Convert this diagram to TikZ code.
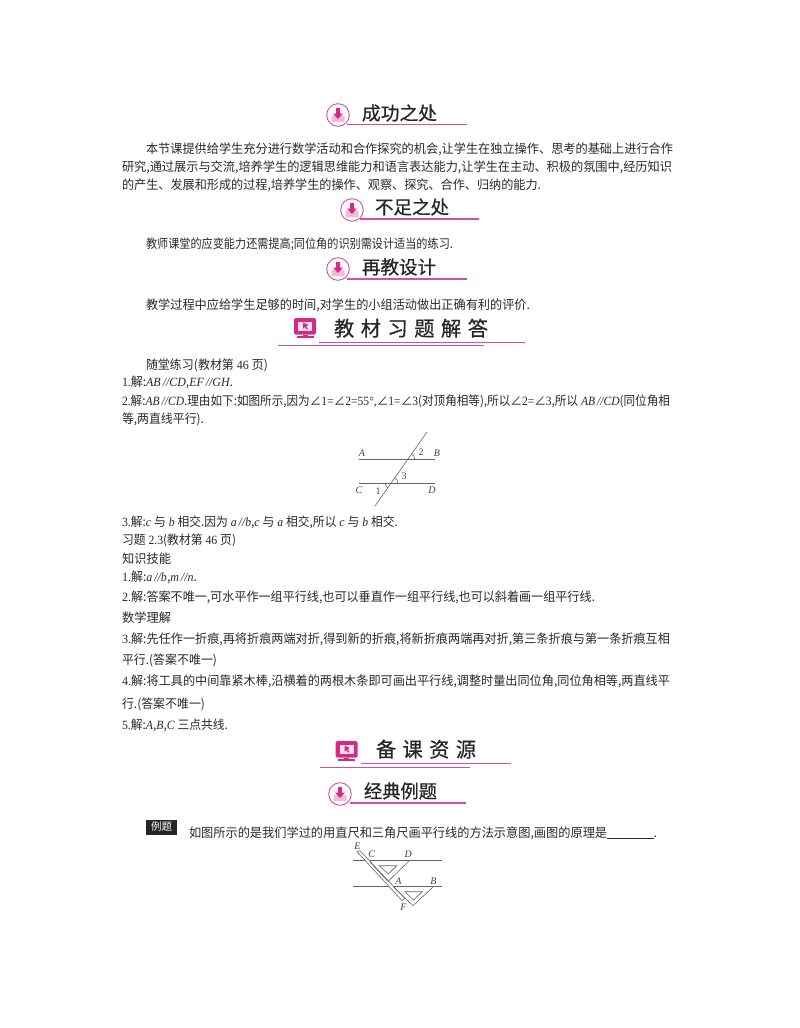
\documentclass[tikz,border=0pt]{standalone}
\usepackage{fontspec}
\usepackage{graphicx}
\setmainfont{Noto Sans CJK SC}
\newfontfamily\enf{Liberation Serif}
\newfontfamily\headf[FakeBold=0.6]{Noto Sans CJK SC}
\newcommand{\en}[1]{{\enf #1}}
\newcommand{\enit}[1]{{\enf\itshape #1}}
\definecolor{ink}{HTML}{2A2A2A}
\definecolor{rosa}{HTML}{D42A85}
\definecolor{rosaline}{HTML}{D4509A}
\definecolor{rosapale}{HTML}{F6BAD6}
\definecolor{figline}{HTML}{666666}
\tikzset{
  bodytext/.style={inner sep=0pt,outer sep=0pt,anchor=base west,text=ink,font=\fontsize{12.6}{14}\selectfont},
  headtext/.style={inner sep=0pt,outer sep=0pt,anchor=base west,text=black!85,font=\headf\fontsize{18.5}{20}\selectfont},
  bighead/.style={headtext,font=\headf\fontsize{20.5}{22}\selectfont},
  figlabel/.style={inner sep=0pt,text=black!75,font=\enf\itshape\fontsize{10}{11}\selectfont},
  fignum/.style={inner sep=0pt,text=black!75,font=\enf\fontsize{10}{11}\selectfont},
  headrule/.style={draw=rosaline,line width=1.2pt},
  figrule/.style={draw=figline,line width=0.9pt},
  figthin/.style={draw=figline,line width=0.6pt},
}
% #1 name, #2 x0, #3 x1, #4 baseline y, #5 text
\newcommand{\tl}[5]{\pgfmathsetlengthmacro{\tlwd}{(#3-#2)*1pt}\node[bodytext] (#1) at (#2,#4) {\resizebox{\tlwd}{\height}{#5}};}
\newcommand{\hl}[5]{\pgfmathsetlengthmacro{\tlwd}{(#3-#2)*1pt}\node[headtext] (#1) at (#2,#4) {\resizebox{\tlwd}{\height}{#5}};}
\newcommand{\dlicon}[2]{\begin{scope}[shift={(#1,#2)}]
  \draw[rosaline,line width=0.9pt,fill=white] (0,0) circle[radius=11.3];
  \fill[rosapale] (-6.5,0.5) -- (-3,0.5) -- (0,3) -- (3,0.5) -- (6.5,0.5) -- (6.5,6.8) -- (-6.5,6.8) -- cycle;
  \fill[rosa] (-2,-7) -- (2,-7) -- (2,-1.5) -- (5,-1.5) -- (0,4) -- (-5,-1.5) -- (-2,-1.5) -- cycle;
\end{scope}}
\newcommand{\pcicon}[2]{\begin{scope}[shift={(#1,#2)}]
  \fill[rosa,rounded corners=1.5pt] (-11,-10) rectangle (11,6.5);
  \fill[white!85!rosa] (-7,-6.5) rectangle (7,2.5);
  \fill[rosa] (-2,-5.5) -- (3.5,-2.8) -- (1.2,-1.8) -- (2.8,1) -- (1.6,1.6) -- (0,-1) -- (-1.8,0.6) -- cycle;
  \fill[rosa] (-2.5,6.5) rectangle (2.5,8);
  \fill[rosa] (-8.5,8) rectangle (8.5,10);
\end{scope}}
\begin{document}
\begin{tikzpicture}[x=1pt,y=-1pt]
\useasboundingbox (0,0) rectangle (800,1028);
\fill[white] (0,0) rectangle (800,1028);

% section headings
\draw[headrule] (347,124.8) -- (467,124.8);
\dlicon{338}{115}
\hl{h1}{362}{437}{120}{成功之处}
\draw[headrule] (360,219) -- (479,219);
\dlicon{352}{210}
\hl{h2}{375}{449}{214}{不足之处}
\draw[headrule] (347,279) -- (467,279);
\dlicon{338}{269}
\hl{h3}{362}{436}{274}{再教设计}

\draw[rosaline,line width=0.8pt] (319,342) -- (525,342);
\draw[rosaline,line width=0.8pt] (278,345.5) -- (484,345.5);
\pcicon{305}{328}
\node[bighead] (h4) at (334,336) {\resizebox{154pt}{\height}{教\hspace{0.32em}材\hspace{0.32em}习\hspace{0.32em}题\hspace{0.32em}解\hspace{0.32em}答}};

\draw[rosaline,line width=0.8pt] (361,763.5) -- (511,763.5);
\draw[rosaline,line width=0.8pt] (320,767) -- (470,767);
\pcicon{346.5}{751}
\node[bighead] (h5) at (376,757) {\resizebox{100pt}{\height}{备\hspace{0.32em}课\hspace{0.32em}资\hspace{0.32em}源}};
\draw[headrule] (350,803) -- (466,803);
\dlicon{340}{794}
\hl{h6}{364}{437}{798}{经典例题}

% body text
\tl{t1}{146}{673}{153.5}{本节课提供给学生充分进行数学活动和合作探究的机会,让学生在独立操作、思考的基础上进行合作}
\tl{t2}{122}{672}{171.5}{研究,通过展示与交流,培养学生的逻辑思维能力和语言表达能力,让学生在主动、积极的氛围中,经历知识}
\tl{t3}{122}{541}{189}{的产生、发展和形成的过程,培养学生的操作、观察、探究、合作、归纳的能力.}
\tl{t4}{146}{453}{248}{教师课堂的应变能力还需提高;同位角的识别需设计适当的练习.}
\tl{t5}{146}{530}{309}{教学过程中应给学生足够的时间,对学生的小组活动做出正确有利的评价.}
\tl{t6}{146}{268}{369}{随堂练习(教材第\en{ 46 }页)}
\tl{t7}{122}{233}{386}{\en{1.}解:\enit{AB}\,\enit{//}\enit{CD},\enit{EF}\,\enit{//}\enit{GH}.}
\tl{t8}{122}{670}{405}{\en{2.}解:\enit{AB}\,\enit{//}\enit{CD}.理由如下:如图所示,因为∠\en{1=}∠\en{2=55°,}∠\en{1=}∠\en{3}(对顶角相等),所以∠\en{2=}∠\en{3},所以\en{ }\enit{AB}\,\enit{//}\enit{CD}(同位角相}
\tl{t9}{122}{204}{423}{等,两直线平行).}
\tl{t10}{122}{398}{526}{\en{3.}解:\enit{c}\en{ }与\en{ }\enit{b}\en{ }相交.因为\en{ }\enit{a}\,\enit{//}\enit{b},\enit{c}\en{ }与\en{ }\enit{a}\en{ }相交,所以\en{ }\enit{c}\en{ }与\en{ }\enit{b}\en{ }相交.}
\tl{t11}{122}{236}{544}{习题\en{ 2.3}(教材第\en{ 46 }页)}
\tl{t12}{122}{171}{563}{知识技能}
\tl{t13}{122}{197}{581}{\en{1.}解:\enit{a}\,\enit{//}\enit{b},\enit{m}\,\enit{//}\enit{n}.}
\tl{t14}{122}{595}{601}{\en{2.}解:答案不唯一,可水平作一组平行线,也可以垂直作一组平行线,也可以斜着画一组平行线.}
\tl{t15}{122}{171}{622}{数学理解}
\tl{t16}{122}{670}{643}{\en{3.}解:先任作一折痕,再将折痕两端对折,得到新的折痕,将新折痕两端再对折,第三条折痕与第一条折痕互相}
\tl{t17}{122}{217}{664}{平行.(答案不唯一)}
\tl{t18}{122}{670}{685}{\en{4.}解:将工具的中间靠紧木棒,沿横着的两根木条即可画出平行线,调整时量出同位角,同位角相等,两直线平}
\tl{t19}{122}{205}{708}{行.(答案不唯一)}
\tl{t20}{122}{228}{729}{\en{5.}解:\enit{A},\enit{B},\enit{C}\en{ }三点共线.}
\tl{t21}{189}{657}{837}{如图所示的是我们学过的用直尺和三角尺画平行线的方法示意图,画图的原理是\rule[-1pt]{48pt}{0.5pt}.}

% example badge
\node[inner sep=0pt,minimum width=31pt,minimum height=15pt,fill=black!85,text=white,anchor=center,font=\fontsize{10.5}{11}\selectfont] (badge) at (161.5,827) {例题};

% figure 1
\draw[figrule] (359,459) -- (435,459);
\draw[figrule] (359,483) -- (435,483);
\draw[figthin] (375,506) -- (427,432);
\draw[figthin] (414.5,459) arc[start angle=0,end angle=-55,radius=6.5];
\draw[figthin] (397.7,483) arc[start angle=0,end angle=-55,radius=6.5];
\draw[figthin] (385.2,483) arc[start angle=180,end angle=125,radius=6];
\node[figlabel] (fa) at (362,453) {A};
\node[figlabel] (fb) at (437,453) {B};
\node[fignum] (f2) at (421,452) {2};
\node[fignum] (f3) at (404,476) {3};
\node[figlabel] (fc) at (359,490) {C};
\node[fignum] (f1) at (378,491) {1};
\node[figlabel] (fd) at (432,490) {D};

% figure 2
\draw[figrule] (353,860.3) -- (442,860.3);
\draw[figrule] (353,886) -- (442,886);
\draw[figthin,fill=white] (357,851.7) -- (360,850.7) -- (405,898.5) -- (402,900.5) -- cycle;
\draw[figthin] (409,861) -- (388,881.5) -- (370,862);
\draw[figthin] (379.3,865.7) -- (396.7,865.7) -- (388.3,874) -- cycle;
\draw[figthin] (433,887) -- (413,905.7) -- (393,886.5);
\draw[figthin] (405,891.7) -- (422.3,891.7) -- (413.3,900) -- cycle;
\node[figlabel] (ge) at (357.3,846) {E};
\node[figlabel] (gc) at (371.7,854) {C};
\node[figlabel] (gd) at (408.3,854.3) {D};
\node[figlabel] (ga) at (398.3,881) {A};
\node[figlabel] (gb) at (433.3,881) {B};
\node[figlabel] (gf) at (403.3,907.3) {F};
\end{tikzpicture}
\end{document}
